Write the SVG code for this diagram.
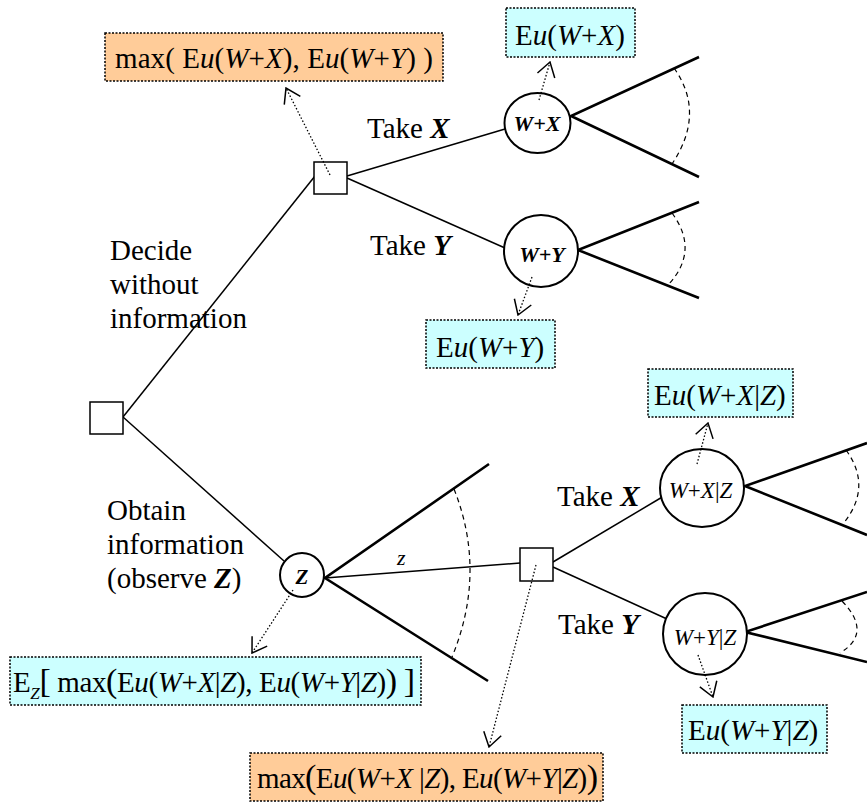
<svg xmlns="http://www.w3.org/2000/svg" width="867" height="803" viewBox="0 0 867 803" font-family="'Liberation Serif', 'DejaVu Serif', serif">
<style>
text{font-family:'Liberation Serif','DejaVu Serif',serif;font-size:29px;fill:#000}
.i{font-style:italic}
.bi{font-style:italic;font-weight:bold}
.node{fill:#fff;stroke:#000}
.sq{stroke-width:1.5}
.ci{stroke-width:2}
.thin{stroke:#000;stroke-width:1.5;fill:none}
.fan{stroke:#000;stroke-width:2.6;fill:none}
.arc{stroke:#000;stroke-width:1.2;fill:none;stroke-dasharray:5 4}
.ptr{stroke:#000;stroke-width:1.3;fill:none;stroke-dasharray:1.5 2;marker-end:url(#ah)}
.orange{fill:#FFCC99;stroke:#000;stroke-width:1.5;stroke-dasharray:2 1.5}
.cyan{fill:#CCFFFF;stroke:#000;stroke-width:1.5;stroke-dasharray:2 1.5}
.ct{font-size:22px}
</style>
<defs>
<marker id="ah" markerUnits="userSpaceOnUse" viewBox="0 0 16 20" refX="15" refY="10" markerWidth="16" markerHeight="20" orient="auto">
<path d="M1,1 L15,10 L1,19" fill="none" stroke="#000" stroke-width="1.5"/>
</marker>
</defs>
<rect width="867" height="803" fill="#fff"/>

<g id="connectors">
<line class="thin" x1="123" y1="417" x2="315" y2="176"/>
<line class="thin" x1="123" y1="417" x2="284" y2="561"/>
<line class="thin" x1="347" y1="176" x2="505" y2="129"/>
<line class="thin" x1="347" y1="178" x2="505" y2="248"/>
<line class="thin" x1="325" y1="578" x2="520" y2="563"/>
<line class="thin" x1="553" y1="562" x2="664" y2="496"/>
<line class="thin" x1="553" y1="567" x2="667" y2="619"/>
<polyline class="fan" points="699,57 571,116 699,177"/>
<path class="arc" d="M674,68 Q706,113 672,164"/>
<polyline class="fan" points="699,202 578,250 699,298"/>
<path class="arc" d="M672,213 Q700,251 668,285"/>
<polyline class="fan" points="489,464 325,578 488,681"/>
<path class="arc" d="M454,489 Q487,572 452,657"/>
<polyline class="fan" points="867,443 745,486 867,535"/>
<path class="arc" d="M846,450 Q873,487 843,524"/>
<polyline class="fan" points="867,592 745,632 867,662"/>
<path class="arc" d="M842,601 Q873,633 840,653"/>
</g>

<g id="root"><rect class="node sq" x="90" y="402" width="33" height="32"/></g>
<g id="decide1"><rect class="node sq" x="314" y="162" width="33" height="32"/></g>
<g id="chanceWX"><ellipse class="node ci" cx="537.5" cy="123" rx="33" ry="30"/><text class="bi ct" x="537" y="131" text-anchor="middle">W+X</text></g>
<g id="chanceWY"><ellipse class="node ci" cx="541" cy="251" rx="37" ry="36"/><text class="bi ct" x="542" y="262" text-anchor="middle">W+Y</text></g>
<g id="chanceZ"><circle class="node ci" cx="302" cy="575" r="22"/><text class="bi" style="font-size:21px" x="302" y="584" text-anchor="middle">Z</text></g>
<g id="decide2"><rect class="node sq" x="520" y="548" width="33" height="33"/></g>
<g id="chanceWXZ"><ellipse class="node ci" cx="702" cy="488" rx="42" ry="39"/><text style="font-size:23px" x="700.5" y="498" text-anchor="middle"><tspan class="i">W</tspan>+<tspan class="i">X</tspan>|<tspan class="i">Z</tspan></text></g>
<g id="chanceWYZ"><ellipse class="node ci" cx="705" cy="634" rx="42" ry="41"/><text style="font-size:23px" x="705" y="645" text-anchor="middle"><tspan class="i">W</tspan>+<tspan class="i">Y</tspan>|<tspan class="i">Z</tspan></text></g>

<g id="labels">
<text x="367" y="138">Take <tspan class="bi">X</tspan></text>
<text x="370" y="255">Take <tspan class="bi">Y</tspan></text>
<text x="110" y="260">Decide</text>
<text x="110" y="294">without</text>
<text x="110" y="328">information</text>
<text x="107" y="520">Obtain</text>
<text x="107" y="554">information</text>
<text x="107" y="588">(observe <tspan class="bi">Z</tspan>)</text>
<text class="i" style="font-size:22px" x="397" y="565">z</text>
<text x="557" y="506">Take <tspan class="bi">X</tspan></text>
<text x="558" y="634">Take <tspan class="bi">Y</tspan></text>
</g>

<g id="box-max1"><rect class="orange" x="105" y="33" width="338" height="48"/>
<text x="115" y="68" textLength="318" lengthAdjust="spacing">max( E<tspan class="i">u</tspan>(<tspan class="i">W</tspan>+<tspan class="i">X</tspan>), E<tspan class="i">u</tspan>(<tspan class="i">W</tspan>+<tspan class="i">Y</tspan>) )</text></g>
<g id="box-EuWX"><rect class="cyan" x="506" y="8" width="129" height="49"/>
<text x="515" y="45">E<tspan class="i">u</tspan>(<tspan class="i">W</tspan>+<tspan class="i">X</tspan>)</text></g>
<g id="box-EuWY"><rect class="cyan" x="426" y="320" width="129" height="48"/>
<text x="436" y="357">E<tspan class="i">u</tspan>(<tspan class="i">W</tspan>+<tspan class="i">Y</tspan>)</text></g>
<g id="box-EuWXZ"><rect class="cyan" x="648" y="369" width="145" height="48"/>
<text x="654" y="405">E<tspan class="i">u</tspan>(<tspan class="i">W</tspan>+<tspan class="i">X</tspan>|<tspan class="i">Z</tspan>)</text></g>
<g id="box-EuWYZ"><rect class="cyan" x="682" y="705" width="145" height="48"/>
<text x="688" y="740">E<tspan class="i">u</tspan>(<tspan class="i">W</tspan>+<tspan class="i">Y</tspan>|<tspan class="i">Z</tspan>)</text></g>
<g id="box-EZ"><rect class="cyan" x="10" y="657" width="411" height="48"/>
<text x="13" y="692" textLength="402" lengthAdjust="spacing">E<tspan class="i" style="font-size:17px" dy="7">Z</tspan><tspan style="font-size:34px" dy="-7">[</tspan> max<tspan style="font-size:34px">(</tspan>E<tspan class="i">u</tspan>(<tspan class="i">W</tspan>+<tspan class="i">X</tspan>|<tspan class="i">Z</tspan>), E<tspan class="i">u</tspan>(<tspan class="i">W</tspan>+<tspan class="i">Y</tspan>|<tspan class="i">Z</tspan>)<tspan style="font-size:34px">)</tspan> <tspan style="font-size:34px">]</tspan></text></g>
<g id="box-max2"><rect class="orange" x="250" y="753" width="353" height="48"/>
<text x="257" y="788" textLength="341" lengthAdjust="spacing">max<tspan style="font-size:34px">(</tspan>E<tspan class="i">u</tspan>(<tspan class="i">W</tspan>+<tspan class="i">X</tspan> |<tspan class="i">Z</tspan>), E<tspan class="i">u</tspan>(<tspan class="i">W</tspan>+<tspan class="i">Y</tspan>|<tspan class="i">Z</tspan>)<tspan style="font-size:34px">)</tspan></text></g>

<g id="pointers">
<line class="ptr" x1="330" y1="175" x2="286" y2="88"/>
<line class="ptr" x1="539" y1="100" x2="550" y2="62"/>
<line class="ptr" x1="532" y1="277" x2="518" y2="315"/>
<line class="ptr" x1="293" y1="590" x2="252" y2="653"/>
<line class="ptr" x1="536" y1="565" x2="489" y2="747"/>
<line class="ptr" x1="697" y1="464" x2="708" y2="423"/>
<line class="ptr" x1="698" y1="655" x2="713" y2="697"/>
</g>
</svg>
